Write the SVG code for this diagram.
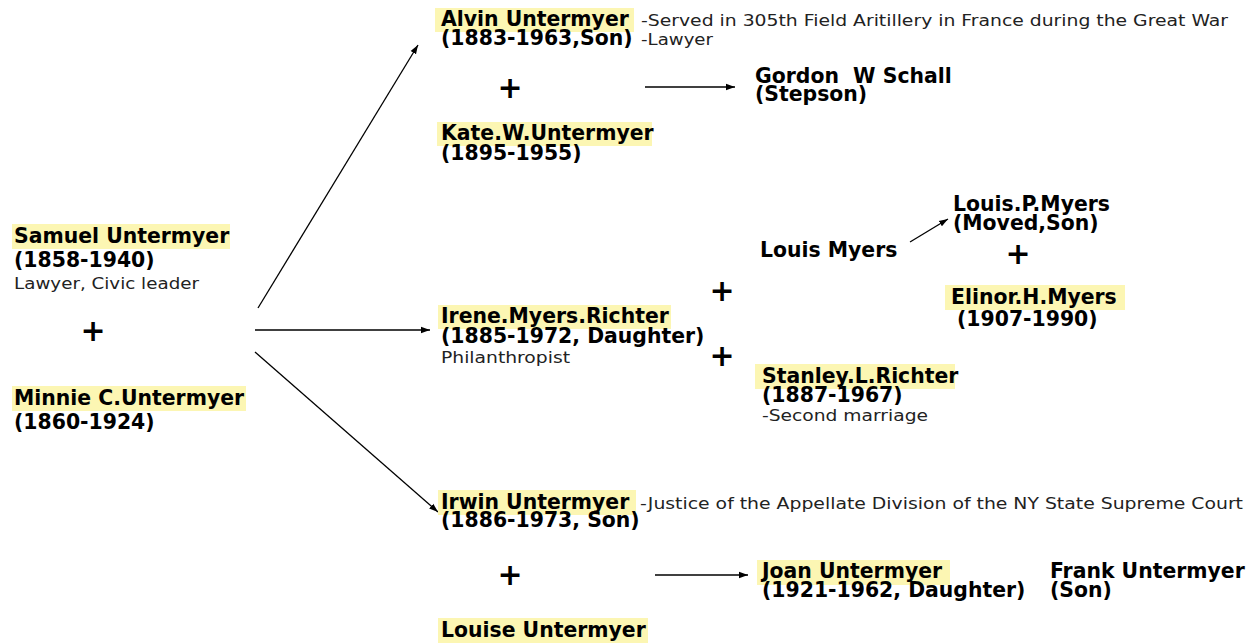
<svg xmlns="http://www.w3.org/2000/svg" width="1257" height="643" viewBox="0 0 1257 643">
<style>
.b{font-family:"DejaVu Sans","Open Sans",sans-serif;font-weight:bold;font-size:20.4px;fill:#000}
.r{font-family:"DejaVu Sans","Open Sans",sans-serif;font-size:16.5px;fill:#222}
.p{font-family:"DejaVu Sans",sans-serif;font-weight:bold;font-size:30px;fill:#000;text-anchor:middle}
.hl{fill:#fcf6b3}
.ln{stroke:#000;stroke-width:1.3;fill:none;marker-end:url(#ah)}
</style>
<defs>
<marker id="ah" viewBox="0 0 10 10" refX="10" refY="5" markerWidth="9" markerHeight="9" markerUnits="userSpaceOnUse" orient="auto">
<path d="M0,1.5 L10,5 L0,8.5 z" fill="#000"/>
</marker>
</defs>
<rect width="1257" height="643" fill="#fff"/>
<g id="connectors">
<line class="ln" x1="258" y1="308" x2="418" y2="45"/>
<line class="ln" x1="255" y1="330" x2="430" y2="330"/>
<line class="ln" x1="255" y1="352" x2="438" y2="512"/>
<line class="ln" x1="645" y1="87" x2="735" y2="87"/>
<line class="ln" x1="910" y1="242" x2="948" y2="219"/>
<line class="ln" x1="655" y1="575" x2="748" y2="575"/>
</g>
<g id="samuel">
<rect class="hl" x="12" y="224" width="218" height="25"/>
<text class="b" x="14" y="243">Samuel Untermyer</text>
<text class="b" x="14" y="267">(1858-1940)</text>
<text class="r" x="14" y="289" textLength="185" lengthAdjust="spacingAndGlyphs">Lawyer, Civic leader</text>
</g>
<text class="p" x="93" y="341">+</text>
<g id="minnie">
<rect class="hl" x="12" y="386" width="234" height="25"/>
<text class="b" x="14" y="405">Minnie C.Untermyer</text>
<text class="b" x="14" y="429">(1860-1924)</text>
</g>
<g id="alvin">
<rect class="hl" x="435" y="8" width="199" height="24"/>
<text class="b" x="441" y="26">Alvin Untermyer</text>
<text class="b" x="441" y="45">(1883-1963,Son)</text>
<text class="r" x="641" y="26" textLength="587" lengthAdjust="spacingAndGlyphs">-Served in 305th Field Aritillery in France during the Great War</text>
<text class="r" x="641" y="45" textLength="72" lengthAdjust="spacingAndGlyphs">-Lawyer</text>
</g>
<text class="p" x="510" y="98">+</text>
<g id="gordon">
<text class="b" x="755" y="83" xml:space="preserve">Gordon  W Schall</text>
<text class="b" x="755" y="101">(Stepson)</text>
</g>
<g id="kate">
<rect class="hl" x="437" y="122" width="215" height="24"/>
<text class="b" x="441" y="140">Kate.W.Untermyer</text>
<text class="b" x="441" y="160">(1895-1955)</text>
</g>
<g id="louisp">
<text class="b" x="953" y="211">Louis.P.Myers</text>
<text class="b" x="953" y="230">(Moved,Son)</text>
</g>
<g id="louis">
<text class="b" x="760" y="257">Louis Myers</text>
</g>
<text class="p" x="1018" y="264">+</text>
<g id="elinor">
<rect class="hl" x="945" y="285" width="180" height="25"/>
<text class="b" x="951" y="304">Elinor.H.Myers</text>
<text class="b" x="957" y="326">(1907-1990)</text>
</g>
<text class="p" x="722" y="301">+</text>
<text class="p" x="722" y="366">+</text>
<g id="irene">
<rect class="hl" x="438" y="305" width="233" height="24"/>
<text class="b" x="441" y="323">Irene.Myers.Richter</text>
<text class="b" x="441" y="343">(1885-1972, Daughter)</text>
<text class="r" x="441" y="363" textLength="129" lengthAdjust="spacingAndGlyphs">Philanthropist</text>
</g>
<g id="stanley">
<rect class="hl" x="755" y="364" width="200" height="25"/>
<text class="b" x="762" y="383">Stanley.L.Richter</text>
<text class="b" x="762" y="402">(1887-1967)</text>
<text class="r" x="762" y="421" textLength="166" lengthAdjust="spacingAndGlyphs">-Second marriage</text>
</g>
<g id="irwin">
<rect class="hl" x="438" y="490" width="198" height="25"/>
<text class="b" x="441" y="509">Irwin Untermyer</text>
<text class="b" x="441" y="527">(1886-1973, Son)</text>
<text class="r" x="640" y="509" textLength="603" lengthAdjust="spacingAndGlyphs">-Justice of the Appellate Division of the NY State Supreme Court</text>
</g>
<text class="p" x="510" y="585">+</text>
<g id="joan">
<rect class="hl" x="757" y="560" width="193" height="25"/>
<text class="b" x="762" y="578">Joan Untermyer</text>
<text class="b" x="762" y="597">(1921-1962, Daughter)</text>
</g>
<g id="frank">
<text class="b" x="1050" y="578">Frank Untermyer</text>
<text class="b" x="1050" y="597">(Son)</text>
</g>
<g id="louise">
<rect class="hl" x="438" y="618" width="210" height="25"/>
<text class="b" x="441" y="637">Louise Untermyer</text>
</g>
</svg>
